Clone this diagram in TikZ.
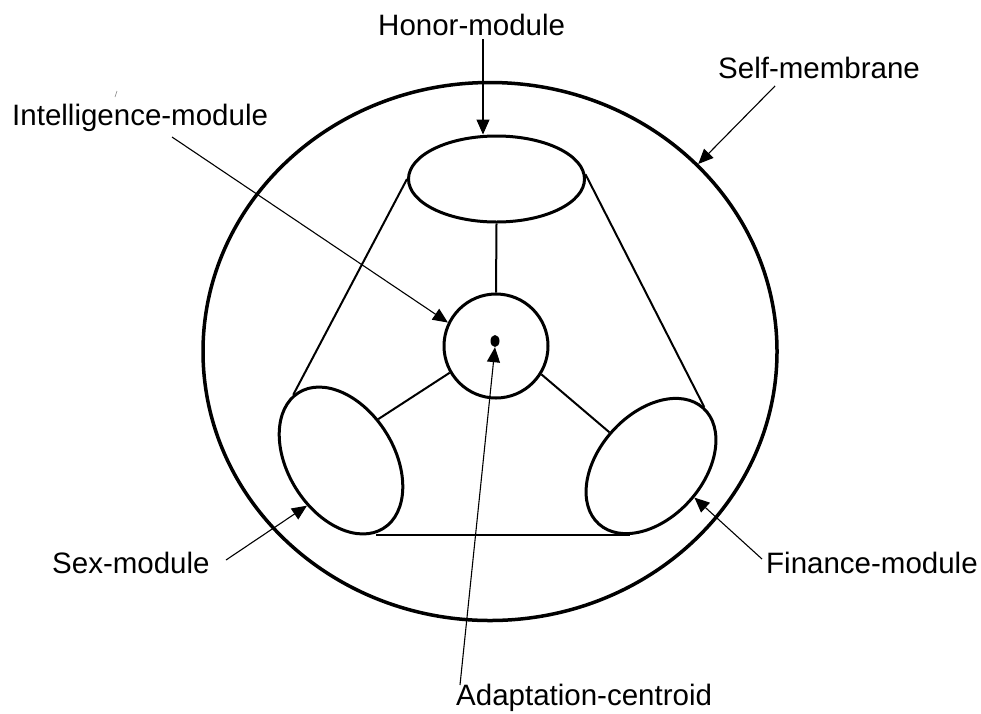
\documentclass[tikz,border=0pt]{standalone}
\usepackage{fontspec}
\setmainfont{Liberation Sans}
\usetikzlibrary{shapes.geometric, arrows.meta}
\begin{document}
\begin{tikzpicture}[x=1pt, y=-1pt,
  lbl/.style={anchor=base west, inner sep=0pt, font=\fontsize{29.5}{35}\selectfont},
  module/.style={draw, ellipse, line width=3pt, inner sep=0pt},
  link/.style={line width=2pt},
  arr/.style={line width=1.1pt, -{Triangle[length=15pt, width=13pt]}},
]
\useasboundingbox (0,0) rectangle (981,713);

% shapes
\node[draw, ellipse, line width=3.5pt, inner sep=0pt, minimum width=574pt, minimum height=538pt] (self) at (490,351.5) {};
\node[module, minimum width=176pt, minimum height=86pt] (honor) at (496.5,179) {};
\node[draw, circle, line width=3pt, minimum size=104pt, inner sep=0pt] (centroid) at (496,346) {};
\node[fill, ellipse, minimum width=9pt, minimum height=12pt, inner sep=0pt] (dot) at (495,341) {};
\node[module, minimum width=160pt, minimum height=106pt, rotate=-58] (sex) at (341,460.5) {};
\node[module, minimum width=156pt, minimum height=104pt, rotate=48] (finance) at (651,466) {};

% labels
\node[lbl] (honorlbl) at (378,35) {Honor-module};
\node[lbl] (intellbl) at (12,125) {Intelligence-module};
\node[lbl] (selflbl) at (718,78) {Self-membrane};
\node[lbl] (sexlbl) at (52,573) {Sex-module};
\node[lbl] (finlbl) at (766,573) {Finance-module};
\node[lbl] (adaptlbl) at (456,705) {Adaptation-centroid};

% arrow start points
\coordinate (hs) at (483,39);
\coordinate (is) at (172,137);
\coordinate (ss) at (775,86);
\coordinate (xs) at (226,560);
\coordinate (fs) at (762,559);
\coordinate (as) at (460,685);

% links
\draw[link] (honor.south) -- (centroid.north);
\draw[link] (honor.west) -- (sex.184);
\draw[link] (honor.3) -- (finance.east);
\draw[link] (centroid.210) -- (sex.106);
\draw[link] (centroid.-32) -- (finance.93);
\draw[link, line width=2.5pt] (finance.205) -- (finance.205 -| sex.-6);

% arrows
\draw[arr] (hs) -- (hs |- honor.north);
\draw[arr] (is) -- (centroid.154);
\draw[arr] (ss) -- (self.42);
\draw[arr] (xs) -- (sex.291);
\draw[arr] (fs) -- (finance.276);
\draw[arr] (as) -- (dot.south);

% stray mark
\draw[line width=0.6pt, gray] (115,97) -- (117,91);
\end{tikzpicture}
\end{document}
